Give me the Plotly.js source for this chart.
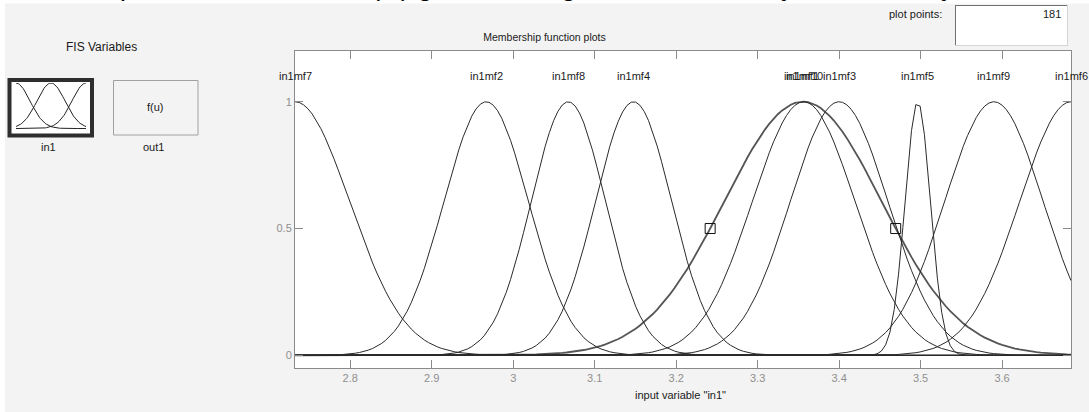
<!DOCTYPE html>
<html>
<head>
<meta charset="utf-8">
<script src="https://cdn.plot.ly/plotly-3.0.1.min.js"></script>
<style>
  html, body { margin: 0; padding: 0; background: #ffffff; }
  #fig { width: 1089px; height: 412px; }
</style>
</head>
<body>
<div id="fig"></div>
<script>
// ---- input variable "in1" ----
const xRange = [2.7322, 3.6846];
const plotPoints = 181;

// Gaussian membership functions (gaussmf parameters: sigma, center)
const mfNames  = ['in1mf1', 'in1mf2', 'in1mf3', 'in1mf4', 'in1mf5', 'in1mf6', 'in1mf7', 'in1mf8', 'in1mf9', 'in1mf10'];
const mfSigma  = [0.0967, 0.0519, 0.0600, 0.0468, 0.0156, 0.0630, 0.0670, 0.0456, 0.0605, 0.0630];
const mfCenter = [3.3556, 2.9669, 3.4000, 3.1477, 3.4965, 3.6846, 2.7322, 3.0676, 3.5900, 3.3565];
const selectedMf = 'in1mf1';

// axis ticks
const xTickVals = [2.8, 2.9, 3.0, 3.1, 3.2, 3.3, 3.4, 3.5, 3.6];
const xTickText = ['2.8', '2.9', '3', '3.1', '3.2', '3.3', '3.4', '3.5', '3.6'];
const yTickVals = [0, 0.5, 1];
const yTickText = ['0', '0.5', '1'];

// small icon of the input variable in the FIS Variables panel
const iconRange = [0, 1];
const iconSigma = [0.2, 0.2, 0.2];
const iconCenter = [0, 0.5, 1];

const W = 1089, H = 412;
const px = v => v / W;          // pixel -> paper x
const py = v => 1 - v / H;      // pixel -> paper y

function gaussmf(x, sigma, c) {
  return Math.exp(-((x - c) * (x - c)) / (2 * sigma * sigma));
}
function linspace(a, b, n) {
  const out = [];
  for (let i = 0; i < n; i++) out.push(a + (b - a) * i / (n - 1));
  return out;
}

const xs = linspace(xRange[0], xRange[1], plotPoints);
const traces = [];

// membership curves of in1
mfNames.forEach((name, i) => {
  const sel = name === selectedMf;
  traces.push({
    type: 'scatter', mode: 'lines', name: name,
    x: xs, y: xs.map(x => gaussmf(x, mfSigma[i], mfCenter[i])),
    line: { color: sel ? '#555555' : '#2a2a2a', width: sel ? 1.8 : 1 },
    xaxis: 'x', yaxis: 'y', hoverinfo: 'skip'
  });
});

// drag handles of the selected function at half membership
const si = mfNames.indexOf(selectedMf);
const halfWidth = mfSigma[si] * Math.sqrt(2 * Math.log(2));
traces.push({
  type: 'scatter', mode: 'markers',
  x: [mfCenter[si] - halfWidth, mfCenter[si] + halfWidth],
  y: [0.5, 0.5],
  marker: { symbol: 'square-open', size: 10, color: '#111', line: { width: 1, color: '#111' } },
  xaxis: 'x', yaxis: 'y', hoverinfo: 'skip'
});

// icon curves
const xi = linspace(iconRange[0], iconRange[1], 61);
iconCenter.forEach((c, i) => {
  traces.push({
    type: 'scatter', mode: 'lines',
    x: xi, y: xi.map(x => gaussmf(x, iconSigma[i], c)),
    line: { color: '#222', width: 1 },
    xaxis: 'x2', yaxis: 'y2', hoverinfo: 'skip'
  });
});

const labelFont = { family: 'Liberation Sans, Arial, sans-serif', size: 11, color: '#1a1a1a' };
const tickFont = { family: 'Liberation Sans, Arial, sans-serif', size: 11, color: '#8f8f8f' };

const annotations = [];
// names above each function's peak
mfNames.forEach((name, i) => {
  annotations.push({
    xref: 'x', yref: 'y', x: mfCenter[i], y: 1.1, text: name,
    showarrow: false, xanchor: 'center', yanchor: 'middle', font: labelFont
  });
});

function paperText(text, x, y, xanchor, font) {
  annotations.push({
    xref: 'paper', yref: 'paper', x: px(x), y: py(y), text: text,
    showarrow: false, xanchor: xanchor, yanchor: 'middle', font: font || labelFont
  });
}
paperText('input variable "in1"', 680, 395, 'center');
paperText('FIS Variables', 101, 47, 'center', { family: 'Liberation Sans, Arial, sans-serif', size: 12, color: '#1a1a1a' });
paperText('in1', 48, 147, 'center');
paperText('out1', 153, 147, 'center');
paperText('f(u)', 155, 107, 'center');
paperText('plot points:', 944, 14, 'right');
paperText('181', 1063, 14, 'right');

// descenders of the document line running above the window
[['p', 127], ['(Q) g', 402], ['g', 568], ['y', 788], ['y', 948]].forEach(([t, x]) => {
  annotations.push({
    xref: 'paper', yref: 'paper', x: px(x), y: py(1.5), text: t,
    showarrow: false, xanchor: 'center', yanchor: 'bottom', borderpad: 0,
    font: { family: 'Liberation Sans, Arial, sans-serif', size: 27, color: '#000' }
  });
});

const shapes = [
  // white document margins
  { type: 'rect', xref: 'paper', yref: 'paper', x0: 0, x1: 1, y0: py(3.5), y1: 1,
    line: { width: 0 }, fillcolor: '#ffffff', layer: 'below' },
  { type: 'rect', xref: 'paper', yref: 'paper', x0: 0, x1: px(5), y0: 0, y1: 1,
    line: { width: 0 }, fillcolor: '#ffffff', layer: 'below' },
  // in1 (selected) variable box
  { type: 'rect', xref: 'paper', yref: 'paper', x0: px(9.5), x1: px(92), y0: py(135.5), y1: py(80),
    line: { width: 4, color: '#2e2e2e' }, fillcolor: '#ffffff', layer: 'below' },
  // out1 box
  { type: 'rect', xref: 'paper', yref: 'paper', x0: px(113.5), x1: px(198), y0: py(135), y1: py(80.5),
    line: { width: 1, color: '#a0a0a0' }, fillcolor: 'rgba(0,0,0,0)', layer: 'below' },
  // plot points edit field
  { type: 'rect', xref: 'paper', yref: 'paper', x0: px(955), x1: px(1068), y0: py(46), y1: py(5),
    line: { width: 0 }, fillcolor: '#ffffff', layer: 'below' },
  { type: 'line', xref: 'paper', yref: 'paper', x0: px(955), x1: px(1068), y0: py(5.5), y1: py(5.5),
    line: { width: 1, color: '#6e6e6e' } },
  { type: 'line', xref: 'paper', yref: 'paper', x0: px(955.5), x1: px(955.5), y0: py(5), y1: py(46),
    line: { width: 1, color: '#6e6e6e' } },
  { type: 'line', xref: 'paper', yref: 'paper', x0: px(955), x1: px(1068), y0: py(45.5), y1: py(45.5),
    line: { width: 1, color: '#d4d4d4' } },
  { type: 'line', xref: 'paper', yref: 'paper', x0: px(1067.5), x1: px(1067.5), y0: py(5), y1: py(46),
    line: { width: 1, color: '#d4d4d4' } }
];

const layout = {
  width: W, height: H,
  margin: { l: 0, r: 0, t: 0, b: 0 },
  paper_bgcolor: '#f3f3f3',
  plot_bgcolor: '#ffffff',
  showlegend: false,
  title: {
    text: 'Membership function plots',
    xref: 'paper', yref: 'container',
    x: 0.5, xanchor: 'center', y: py(37), yanchor: 'middle',
    font: { family: 'Liberation Sans, Arial, sans-serif', size: 10.5, color: '#1a1a1a' }
  },
  xaxis: {
    domain: [px(295), px(1071)],
    range: xRange,
    tickmode: 'array', tickvals: xTickVals, ticktext: xTickText,
    ticks: 'inside', ticklen: 8, tickwidth: 1, tickcolor: '#8a8a8a',
    showline: true, linecolor: '#8a8a8a', linewidth: 1, mirror: 'ticks',
    showgrid: false, zeroline: false, tickfont: tickFont,
    anchor: 'y', fixedrange: true
  },
  yaxis: {
    domain: [py(368), py(51)],
    range: [-0.05, 1.2],
    tickmode: 'array', tickvals: yTickVals, ticktext: yTickText,
    ticks: 'inside', ticklen: 8, tickwidth: 1, tickcolor: '#8a8a8a',
    showline: true, linecolor: '#8a8a8a', linewidth: 1, mirror: 'ticks',
    showgrid: false, zeroline: false, tickfont: tickFont,
    anchor: 'x', fixedrange: true
  },
  xaxis2: {
    domain: [px(16), px(86)], range: iconRange, anchor: 'y2',
    visible: false, fixedrange: true
  },
  yaxis2: {
    domain: [py(129), py(83)], range: [-0.01, 1.0], anchor: 'x2',
    visible: false, fixedrange: true
  },
  annotations: annotations,
  shapes: shapes
};

Plotly.newPlot('fig', traces, layout, { staticPlot: true, displayModeBar: false });
</script>
</body>
</html>
